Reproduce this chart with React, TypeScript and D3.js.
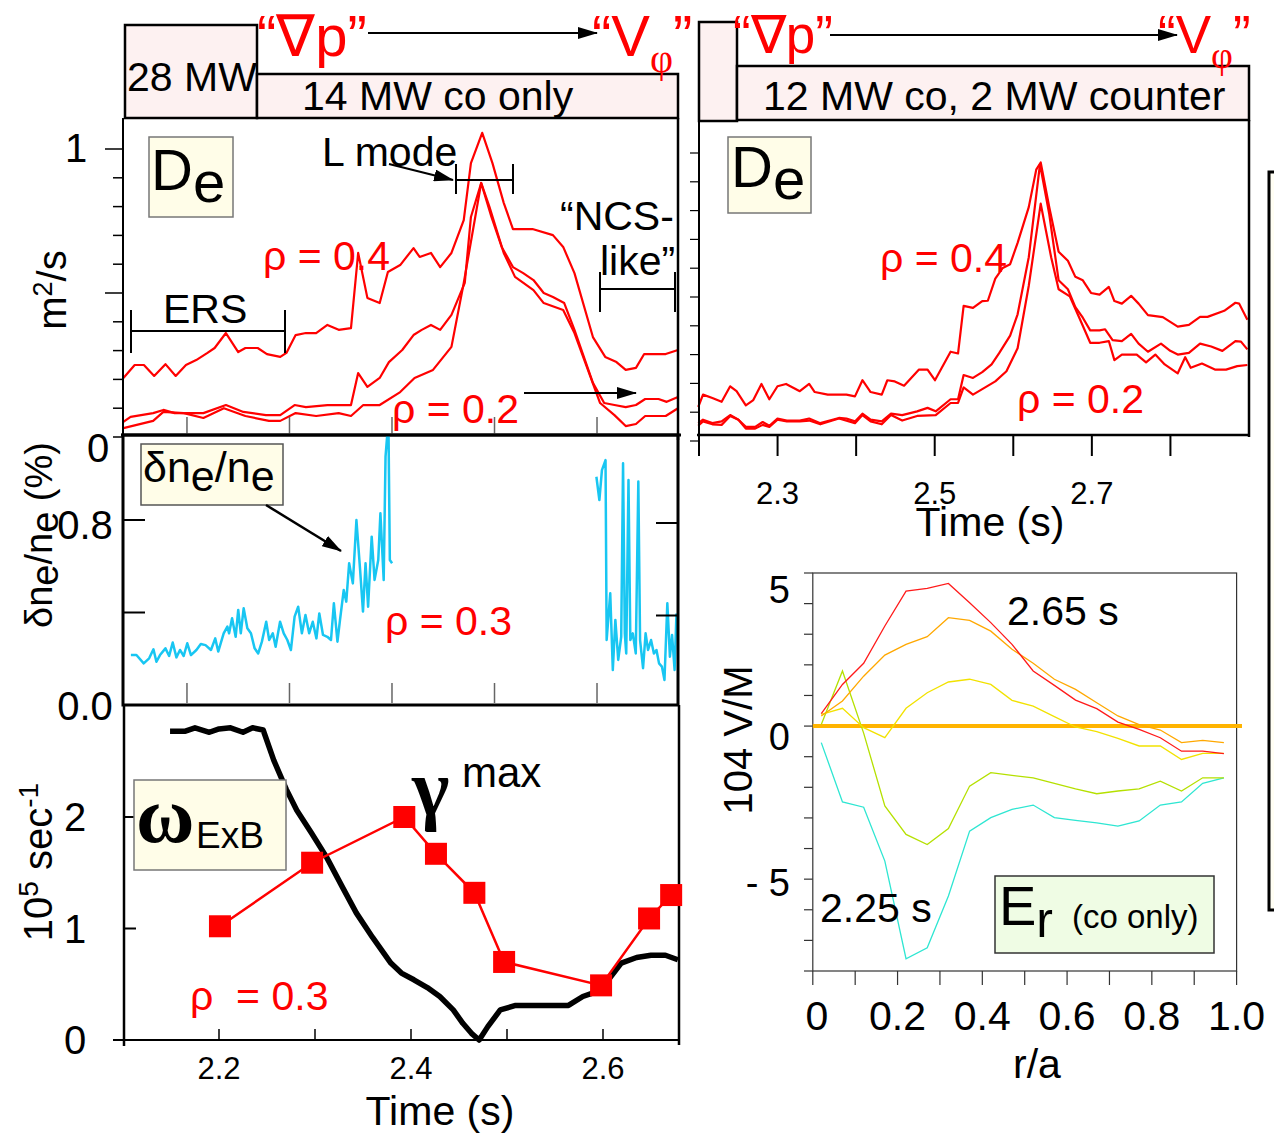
import React from 'react';
import * as d3 from 'd3';

const FONT = "'Liberation Sans', Arial, Helvetica, sans-serif";
const SERIF = "'Liberation Serif', 'DejaVu Serif', 'Times New Roman', serif";
const RED = '#ff0000';
const CYAN = '#18c6f2';

// ---------- De, co only (time s, m^2/s) ----------
const deCoRho04: [number, number][] = [
  [2.138,0.205],[2.149,0.25],[2.158,0.25],[2.168,0.212],[2.179,0.253],[2.189,0.212],[2.199,0.25],[2.209,0.267],
  [2.220,0.292],[2.227,0.309],[2.238,0.361],[2.250,0.295],[2.257,0.309],[2.269,0.309],[2.278,0.288],[2.291,0.278],
  [2.297,0.292],[2.306,0.354],[2.316,0.361],[2.326,0.361],[2.337,0.389],[2.348,0.372],[2.360,0.378],[2.367,0.639],
  [2.376,0.483],[2.388,0.465],[2.396,0.573],[2.408,0.597],[2.421,0.656],[2.427,0.625],[2.438,0.639],[2.447,0.590],
  [2.458,0.639],[2.470,0.753],[2.477,0.951],[2.488,1.056],[2.498,0.951],[2.509,0.813],[2.518,0.722],[2.537,0.722],
  [2.557,0.701],[2.567,0.66],[2.578,0.569],[2.596,0.347],[2.608,0.278],[2.619,0.26],[2.628,0.233],[2.638,0.24],
  [2.646,0.288],[2.667,0.288],[2.679,0.302]
];
const deCoRho03: [number, number][] = [
  [2.138,0.053],[2.145,0.07],[2.167,0.083],[2.177,0.094],[2.188,0.083],[2.216,0.083],[2.238,0.111],[2.255,0.087],
  [2.277,0.076],[2.291,0.076],[2.305,0.111],[2.316,0.104],[2.337,0.111],[2.360,0.111],[2.367,0.222],[2.376,0.174],
  [2.388,0.205],[2.397,0.26],[2.410,0.302],[2.421,0.354],[2.429,0.372],[2.438,0.389],[2.447,0.372],[2.458,0.424],
  [2.471,0.535],[2.477,0.764],[2.487,0.882],[2.497,0.764],[2.507,0.66],[2.518,0.59],[2.528,0.569],[2.538,0.545],
  [2.548,0.5],[2.557,0.486],[2.568,0.465],[2.578,0.372],[2.596,0.188],[2.607,0.118],[2.617,0.111],[2.628,0.104],
  [2.638,0.111],[2.647,0.132],[2.660,0.132],[2.668,0.122],[2.679,0.139]
];
const deCoRho02: [number, number][] = [
  [2.138,0.031],[2.167,0.056],[2.177,0.087],[2.197,0.083],[2.216,0.066],[2.236,0.1],[2.257,0.073],[2.280,0.056],
  [2.291,0.056],[2.306,0.083],[2.326,0.073],[2.348,0.083],[2.360,0.073],[2.372,0.111],[2.388,0.111],[2.408,0.156],
  [2.422,0.205],[2.440,0.233],[2.458,0.313],[2.470,0.535],[2.487,0.882],[2.495,0.8],[2.509,0.639],[2.520,0.556],
  [2.538,0.51],[2.548,0.465],[2.567,0.441],[2.578,0.361],[2.603,0.118],[2.617,0.076],[2.628,0.038],[2.638,0.045],
  [2.647,0.073],[2.667,0.073],[2.679,0.1]
];
const deCoTicks = [0, 0.1, 0.2, 0.3, 0.4, 0.5, 0.6, 0.7, 0.8, 0.9, 1.0];
const timeTicksLeft = [2.2, 2.3, 2.4, 2.5, 2.6];

// ---------- delta ne / ne (%) at rho = 0.3 ----------
const dnSeg1: [number, number][] = [
  [2.1453,0.216],[2.1507,0.216],[2.1578,0.180],[2.1631,0.202],[2.1673,0.241],[2.1702,0.187],[2.1737,0.216],[2.1790,0.245],
  [2.1826,0.212],[2.1861,0.270],[2.1897,0.206],[2.1932,0.238],[2.1968,0.212],[2.2003,0.267],[2.2039,0.216],[2.2092,0.238],
  [2.2135,0.264],[2.2181,0.259],[2.2234,0.238],[2.2276,0.288],[2.2305,0.231],[2.2358,0.310],[2.2394,0.339],[2.2411,0.310],
  [2.2440,0.375],[2.2475,0.295],[2.2500,0.411],[2.2525,0.310],[2.2553,0.418],[2.2589,0.332],[2.2624,0.310],[2.2660,0.245],
  [2.2695,0.223],[2.2731,0.274],[2.2773,0.360],[2.2802,0.281],[2.2837,0.310],[2.2865,0.252],[2.2908,0.360],[2.2944,0.310],
  [2.2979,0.281],[2.3014,0.238],[2.3050,0.382],[2.3085,0.425],[2.3121,0.310],[2.3156,0.389],[2.3192,0.310],[2.3227,0.360],
  [2.3263,0.288],[2.3291,0.396],[2.3327,0.303],[2.3369,0.295],[2.3405,0.281],[2.3433,0.440],[2.3468,0.274],[2.3493,0.368],
  [2.3529,0.497],[2.3554,0.447],[2.3582,0.613],[2.3618,0.526],[2.3653,0.800],[2.3689,0.584],[2.3717,0.404],[2.3742,0.613],
  [2.3767,0.425],[2.3802,0.728],[2.3830,0.541],[2.3866,0.627],[2.3887,0.829],[2.3919,0.541],[2.3937,1.074],[2.3965,1.232],
  [2.3979,0.627],[2.4001,0.613]
];
const dnSeg2: [number, number][] = [
  [2.5994,0.987],[2.6023,0.886],[2.6048,1.016],[2.6083,1.059],[2.6094,0.281],[2.6129,0.483],[2.6154,0.151],[2.6179,0.368],
  [2.6207,0.195],[2.6236,0.295],[2.6254,1.045],[2.6271,0.310],[2.6285,0.223],[2.6307,0.973],[2.6325,0.281],[2.6349,0.310],
  [2.6378,0.223],[2.6403,0.966],[2.6420,0.281],[2.6449,0.159],[2.6474,0.310],[2.6498,0.238],[2.6527,0.281],[2.6555,0.223],
  [2.6580,0.238],[2.6605,0.180],[2.6633,0.166],[2.6658,0.108],[2.6686,0.440],[2.6711,0.209],[2.6732,0.303],[2.6757,0.151],
  [2.6775,0.396]
];
const dnTicks = [0.4, 0.8];

// ---------- omega ExB and gamma max (10^5 s^-1) ----------
const omegaExB: [number, number][] = [
  [2.149,2.77],[2.165,2.77],[2.175,2.80],[2.19,2.76],[2.20,2.79],[2.212,2.80],[2.225,2.76],[2.235,2.80],[2.246,2.78],
  [2.257,2.51],[2.270,2.25],[2.281,2.06],[2.296,1.86],[2.312,1.64],[2.328,1.38],[2.343,1.14],[2.360,0.92],[2.379,0.69],
  [2.390,0.60],[2.403,0.54],[2.417,0.47],[2.430,0.39],[2.444,0.27],[2.454,0.15],[2.463,0.06],[2.471,0.0],[2.480,0.12],
  [2.493,0.27],[2.509,0.31],[2.564,0.31],[2.579,0.39],[2.592,0.43],[2.603,0.51],[2.619,0.69],[2.635,0.74],[2.650,0.76],
  [2.665,0.76],[2.678,0.72]
];
const gammaMax: [number, number][] = [
  [2.201,1.02],[2.297,1.59],[2.393,2.0],[2.426,1.67],[2.466,1.32],[2.497,0.70],[2.598,0.49],[2.648,1.09],[2.671,1.30]
];
const omegaTicks = [0, 1, 2];
const timeTicksBottom = [2.2, 2.3, 2.4, 2.5, 2.6];
const timeLabelsBottom = [2.2, 2.4, 2.6];

// ---------- De, 12 MW co + 2 MW counter ----------
const deCtrUpper: [number, number][] = [
  [2.1990,0.118],[2.2051,0.161],[2.2170,0.149],[2.2288,0.136],[2.2397,0.190],[2.2478,0.173],[2.2596,0.124],[2.2691,0.142],
  [2.2795,0.198],[2.2895,0.145],[2.2999,0.190],[2.3108,0.198],[2.3283,0.173],[2.3402,0.198],[2.3473,0.170],[2.3639,0.161],
  [2.3876,0.161],[2.3985,0.155],[2.4080,0.211],[2.4184,0.170],[2.4326,0.161],[2.4397,0.211],[2.4492,0.207],[2.4610,0.192],
  [2.4800,0.248],[2.4909,0.248],[2.5003,0.211],[2.5202,0.310],[2.5297,0.304],[2.5368,0.469],[2.5487,0.462],[2.5605,0.486],
  [2.5676,0.487],[2.5771,0.564],[2.5866,0.601],[2.5960,0.614],[2.6055,0.688],[2.6197,0.812],[2.6292,0.942],[2.6349,0.967],
  [2.6458,0.812],[2.6577,0.657],[2.6695,0.626],[2.6790,0.570],[2.6885,0.558],[2.6989,0.514],[2.7098,0.508],[2.7216,0.535],
  [2.7287,0.486],[2.7382,0.477],[2.7500,0.504],[2.7595,0.477],[2.7714,0.437],[2.7903,0.430],[2.8093,0.397],[2.8235,0.403],
  [2.8377,0.431],[2.8472,0.431],[2.8685,0.452],[2.8827,0.480],[2.8875,0.477],[2.8979,0.421]
];
const deCtrMiddle: [number, number][] = [
  [2.1990,0.062],[2.2051,0.074],[2.2170,0.062],[2.2288,0.068],[2.2397,0.090],[2.2502,0.074],[2.2596,0.049],[2.2715,0.049],
  [2.2810,0.066],[2.2895,0.053],[2.2999,0.078],[2.3118,0.071],[2.3283,0.071],[2.3402,0.078],[2.3544,0.062],[2.3781,0.080],
  [2.3876,0.078],[2.3985,0.068],[2.4080,0.095],[2.4184,0.074],[2.4326,0.068],[2.4444,0.095],[2.4586,0.090],[2.4776,0.103],
  [2.4909,0.115],[2.5013,0.103],[2.5202,0.145],[2.5297,0.145],[2.5368,0.229],[2.5487,0.219],[2.5605,0.239],[2.5724,0.266],
  [2.5818,0.304],[2.5960,0.366],[2.6055,0.440],[2.6197,0.638],[2.6340,0.961],[2.6458,0.787],[2.6577,0.558],[2.6695,0.527],
  [2.6790,0.465],[2.6885,0.428],[2.6979,0.384],[2.7098,0.384],[2.7169,0.388],[2.7264,0.350],[2.7382,0.347],[2.7500,0.372],
  [2.7595,0.338],[2.7714,0.310],[2.7880,0.338],[2.7998,0.313],[2.8093,0.300],[2.8235,0.306],[2.8377,0.338],[2.8519,0.328],
  [2.8661,0.313],[2.8827,0.347],[2.8898,0.345],[2.8979,0.318]
];
const deCtrLower: [number, number][] = [
  [2.1990,0.053],[2.2051,0.068],[2.2170,0.058],[2.2288,0.056],[2.2397,0.087],[2.2502,0.074],[2.2596,0.043],[2.2715,0.043],
  [2.2810,0.056],[2.2895,0.049],[2.2999,0.074],[2.3118,0.068],[2.3283,0.068],[2.3402,0.071],[2.3544,0.058],[2.3781,0.078],
  [2.3985,0.062],[2.4080,0.090],[2.4184,0.068],[2.4326,0.058],[2.4444,0.090],[2.4586,0.071],[2.4776,0.087],[2.5013,0.090],
  [2.5202,0.132],[2.5297,0.132],[2.5368,0.186],[2.5487,0.161],[2.5605,0.180],[2.5771,0.207],[2.5913,0.242],[2.6055,0.322],
  [2.6197,0.539],[2.6349,0.824],[2.6482,0.638],[2.6577,0.527],[2.6719,0.502],[2.6861,0.415],[2.6979,0.341],[2.7098,0.341],
  [2.7216,0.347],[2.7287,0.281],[2.7382,0.300],[2.7571,0.300],[2.7690,0.273],[2.7808,0.300],[2.7927,0.266],[2.8093,0.235],
  [2.8188,0.291],[2.8258,0.254],[2.8401,0.269],[2.8566,0.248],[2.8708,0.248],[2.8850,0.260],[2.8979,0.264]
];
const timeTicksRight = [2.2, 2.3, 2.4, 2.5, 2.6, 2.7, 2.8];
const timeLabelsRight = [2.3, 2.5, 2.7];

// ---------- Er profiles (10^4 V/m) vs r/a ----------
const rOverA = [0.02,0.07,0.12,0.17,0.22,0.27,0.32,0.37,0.42,0.47,0.52,0.57,0.62,0.67,0.72,0.77,0.82,0.87,0.92,0.97];
const er265 = [0.41,1.36,2.05,3.27,4.41,4.50,4.66,4.03,3.38,2.67,1.80,1.33,0.85,0.57,0.13,-0.11,-0.38,-0.82,-0.82,-0.90];
const erOrange = [0.33,0.82,1.63,2.32,2.67,2.92,3.54,3.45,3.10,2.51,2.05,1.53,1.20,0.76,0.33,0.05,-0.13,-0.54,-0.47,-0.54];
const erYellow = [0.38,0.58,-0.05,-0.38,0.58,1.09,1.44,1.53,1.36,0.84,0.65,0.31,-0.03,-0.18,-0.40,-0.65,-0.65,-1.09,-0.89,-0.89];
const erGreen = [0.05,1.80,-0.23,-2.61,-3.54,-3.87,-3.35,-1.96,-1.52,-1.61,-1.69,-1.87,-2.05,-2.21,-2.12,-2.05,-1.80,-2.12,-1.69,-1.69];
const er225 = [-0.54,-2.48,-2.65,-4.41,-7.60,-7.24,-5.55,-3.43,-2.99,-2.72,-2.58,-2.99,-3.08,-3.16,-3.27,-3.10,-2.58,-2.48,-1.87,-1.69];
const erSeries = [
  { vals: er225, color: '#2ee6d2' },
  { vals: erGreen, color: '#b5e000' },
  { vals: erYellow, color: '#f2e200' },
  { vals: erOrange, color: '#ffa800' },
  { vals: er265, color: '#ff1a1a' },
];
const erYTicks = d3.range(-8, 6, 1);
const erYLabels = [{ v: 5, t: '5', dy: 16 }, { v: 0, t: '0', dy: 10 }, { v: -5, t: '- 5', dy: 3 }];
const erXTicks = d3.range(0, 1.0001, 0.1);
const erXLabels = [0, 0.2, 0.4, 0.6, 0.8, 1.0];

export default function App() {
  // scales
  const xL = d3.scaleLinear().domain([2.1376, 2.679]).range([123, 678]);
  const yDeL = d3.scaleLinear().domain([0, 1]).range([437, 149]);
  const yDn = d3.scaleLinear().domain([0, 0.8]).range([705, 520]);
  const xB = d3.scaleLinear().domain([2.2, 2.6]).range([219, 603]);
  const yOm = d3.scaleLinear().domain([0, 2]).range([1040, 817]);
  const xR = d3.scaleLinear().domain([2.2, 2.9]).range([699, 1249]);
  const yDeR = d3.scaleLinear().domain([0, 1]).range([441, 153]);
  const xEr = d3.scaleLinear().domain([0, 1]).range([812.8, 1236.6]);
  const yEr = d3.scaleLinear().domain([-8, 5]).range([971, 573]);

  const mk = (xs: any, ys: any) => d3.line<[number, number]>().x(d => xs(d[0])).y(d => ys(d[1]));
  const lDeL = mk(xL, yDeL);
  const lDn = mk(xL, yDn);
  const lOm = mk(xB, yOm);
  const lDeR = mk(xR, yDeR);
  const lEr = d3.line<number>().x((_, i) => xEr(rOverA[i])).y(d => yEr(d));

  const txt = { fontFamily: FONT };

  return (
    <svg width={1274} height={1133} style={{ position: 'absolute', left: 0, top: 0, background: '#fff' }}>
      <defs>
        <marker id="ah" viewBox="0 0 20 12" refX="19" refY="6" markerWidth="20" markerHeight="12"
          markerUnits="userSpaceOnUse" orient="auto">
          <path d="M0,0 L20,6 L0,12 z" fill="#000" />
        </marker>
        <clipPath id="clipDn"><rect x={123} y={435} width={555} height={270} /></clipPath>
        <clipPath id="clipDeL"><rect x={123} y={118} width={556} height={318} /></clipPath>
      </defs>
      <rect x={0} y={0} width={1274} height={1133} fill="#fff" />

      {/* ===== beam boxes and headers ===== */}
      <rect x={125} y={25} width={132} height={93} fill="#fdf1f1" stroke="#000" strokeWidth={2.5} />
      <rect x={257} y={74} width={421} height={44} fill="#fdf1f1" stroke="#000" strokeWidth={2.5} />
      <text x={127} y={91} fontSize={41} {...txt}>28 MW</text>
      <text x={302} y={110} fontSize={41} {...txt}>14 MW co only</text>
      <text x={257} y={56} fontSize={58} fill={RED} {...txt}>“∇p”</text>
      <line x1={368} y1={33} x2={597} y2={33} stroke="#000" strokeWidth={2} markerEnd="url(#ah)" />
      <text x={592} y={56} fontSize={58} fill={RED} {...txt}>“V<tspan fontSize={40} fontFamily={SERIF} dy={16}>φ</tspan><tspan dy={-16}>”</tspan></text>

      <rect x={699} y={22} width={38} height={99} fill="#fdf1f1" stroke="#000" strokeWidth={2.5} />
      <rect x={737} y={66} width={512} height={54} fill="#fdf1f1" stroke="#000" strokeWidth={2.5} />
      <text x={763} y={110} fontSize={41} {...txt}>12 MW co, 2 MW counter</text>
      <text x={733} y={53} fontSize={53} fill={RED} {...txt}>“∇p”</text>
      <line x1={830} y1={35} x2={1177} y2={35} stroke="#000" strokeWidth={2} markerEnd="url(#ah)" />
      <text x={1158} y={53} fontSize={53} fill={RED} {...txt}>“V<tspan fontSize={38} fontFamily={SERIF} dy={15}>φ</tspan><tspan dy={-15}>”</tspan></text>

      {/* ===== Panel 1: De co only ===== */}
      <g clipPath="url(#clipDeL)">
        {[deCoRho04, deCoRho03, deCoRho02].map((d, i) => (
          <path key={i} d={lDeL(d) || ''} fill="none" stroke={RED} strokeWidth={2.2} strokeLinejoin="round" />
        ))}
      </g>
      <line x1={123} y1={118} x2={123} y2={437} stroke="#000" strokeWidth={2} />
      <line x1={678} y1={118} x2={678} y2={440} stroke="#000" strokeWidth={2.5} />
      <line x1={121} y1={435} x2={681} y2={435} stroke="#000" strokeWidth={3} />
      {deCoTicks.map(v => (
        <line key={v} x1={v === 0.5 || v === 1 ? 105 : 113} x2={123} y1={yDeL(v)} y2={yDeL(v)} stroke="#000" strokeWidth={1.5} />
      ))}
      {timeTicksLeft.map(t => (
        <line key={t} x1={xL(t)} x2={xL(t)} y1={417} y2={434} stroke="#666" strokeWidth={1.5} />
      ))}
      <text x={76} y={162} fontSize={40} textAnchor="middle" {...txt}>1</text>
      <text x={98} y={462} fontSize={40} textAnchor="middle" {...txt}>0</text>
      <text transform="translate(66,290) rotate(-90)" fontSize={40} textAnchor="middle" {...txt}>m<tspan fontSize={27} dy={-14}>2</tspan><tspan dy={14}>/s</tspan></text>

      <rect x={149} y={137} width={84} height={80} fill="#fffde8" stroke="#777" strokeWidth={1.5} />
      <text x={151} y={190} fontSize={58} {...txt}>D<tspan dy={12}>e</tspan></text>
      <text x={322} y={166} fontSize={41} {...txt}>L mode</text>
      <line x1={389} y1={164} x2={453} y2={180} stroke="#000" strokeWidth={2} markerEnd="url(#ah)" />
      <line x1={456} y1={180} x2={513} y2={180} stroke="#000" strokeWidth={2} />
      <line x1={456} y1={164} x2={456} y2={194} stroke="#000" strokeWidth={2} />
      <line x1={513} y1={164} x2={513} y2={194} stroke="#000" strokeWidth={2} />
      <text x={263} y={270} fontSize={41} fill={RED} {...txt}>ρ = 0.4</text>
      <text x={163} y={323} fontSize={41} {...txt}>ERS</text>
      <line x1={131} y1={331} x2={285} y2={331} stroke="#000" strokeWidth={2} />
      <line x1={131} y1={310} x2={131} y2={353} stroke="#000" strokeWidth={2} />
      <line x1={285} y1={310} x2={285} y2={353} stroke="#000" strokeWidth={2} />
      <text x={560} y={230} fontSize={41} {...txt}>“NCS-</text>
      <text x={600} y={275} fontSize={41} {...txt}>like”</text>
      <line x1={600} y1={289} x2={675} y2={289} stroke="#000" strokeWidth={2} />
      <line x1={600} y1={272} x2={600} y2={312} stroke="#000" strokeWidth={2} />
      <line x1={675} y1={272} x2={675} y2={312} stroke="#000" strokeWidth={2} />
      <text x={392} y={423} fontSize={41} fill={RED} {...txt}>ρ = 0.2</text>
      <line x1={524} y1={393} x2={636} y2={393} stroke="#000" strokeWidth={2} markerEnd="url(#ah)" />

      {/* ===== Panel 2: delta ne/ne ===== */}
      <g clipPath="url(#clipDn)">
        <path d={lDn(dnSeg1) || ''} fill="none" stroke={CYAN} strokeWidth={2.5} strokeLinejoin="round" />
        <path d={lDn(dnSeg2) || ''} fill="none" stroke={CYAN} strokeWidth={2.5} strokeLinejoin="round" />
      </g>
      <rect x={123} y={435} width={555} height={270} fill="none" stroke="#000" strokeWidth={3} />
      {dnTicks.map(v => (
        <g key={v}>
          <line x1={123} x2={145} y1={yDn(v)} y2={yDn(v)} stroke="#000" strokeWidth={2} />
          <line x1={656} x2={678} y1={yDn(v) + 3} y2={yDn(v) + 3} stroke="#000" strokeWidth={2} />
        </g>
      ))}
      {timeTicksLeft.map(t => (
        <line key={t} x1={xL(t)} x2={xL(t)} y1={683} y2={703} stroke="#666" strokeWidth={1.5} />
      ))}
      <text x={85} y={539} fontSize={40} textAnchor="middle" {...txt}>0.8</text>
      <text x={85} y={720} fontSize={40} textAnchor="middle" {...txt}>0.0</text>
      <text transform="translate(52,535) rotate(-90)" fontSize={38} textAnchor="middle" {...txt}>δn<tspan dy={6}>e</tspan><tspan dy={-6}>/n</tspan><tspan dy={6}>e</tspan><tspan dy={-6}> (%)</tspan></text>
      <rect x={141} y={444} width={142} height={61} fill="#fffde8" stroke="#555" strokeWidth={1.5} />
      <text x={143} y={482} fontSize={43} {...txt}>δn<tspan dy={9}>e</tspan><tspan dy={-9}>/n</tspan><tspan dy={9}>e</tspan></text>
      <line x1={266} y1={505} x2={341} y2={551} stroke="#000" strokeWidth={2.5} markerEnd="url(#ah)" />
      <text x={385} y={635} fontSize={41} fill={RED} {...txt}>ρ = 0.3</text>

      {/* ===== Panel 3: omega ExB / gamma max ===== */}
      <line x1={124} y1={705} x2={124} y2={1046} stroke="#000" strokeWidth={2.5} />
      <line x1={113} y1={1040} x2={679} y2={1040} stroke="#000" strokeWidth={2} />
      <line x1={679} y1={705} x2={679} y2={1045} stroke="#000" strokeWidth={2.5} />
      {omegaTicks.filter(v => v > 0).map(v => (
        <line key={v} x1={124} x2={136} y1={yOm(v)} y2={yOm(v)} stroke="#000" strokeWidth={2} />
      ))}
      {timeTicksBottom.map(t => (
        <line key={t} x1={xB(t)} x2={xB(t)} y1={1029} y2={1040} stroke="#000" strokeWidth={1.5} />
      ))}
      {omegaTicks.map(v => (
        <text key={v} x={75} y={yOm(v) + 14} fontSize={40} textAnchor="middle" {...txt}>{v}</text>
      ))}
      {timeLabelsBottom.map(t => (
        <text key={t} x={xB(t)} y={1079} fontSize={31} textAnchor="middle" {...txt}>{t.toFixed(1)}</text>
      ))}
      <text x={440} y={1125} fontSize={41} textAnchor="middle" {...txt}>Time (s)</text>
      <text transform="translate(52,862) rotate(-90)" fontSize={40} textAnchor="middle" {...txt}>10<tspan fontSize={28} dy={-14}>5</tspan><tspan dy={14}> sec</tspan><tspan fontSize={28} dy={-14}>-1</tspan></text>

      <path d={lOm(omegaExB) || ''} fill="none" stroke="#000" strokeWidth={5.5} strokeLinejoin="round" />
      <path d={lOm(gammaMax) || ''} fill="none" stroke={RED} strokeWidth={2.5} />
      {gammaMax.map((d, i) => (
        <rect key={i} x={xB(d[0]) - 11} y={yOm(d[1]) - 11} width={22} height={22} fill={RED} />
      ))}
      <rect x={134} y={780} width={152} height={90} fill="#fffde8" stroke="#777" strokeWidth={1.5} />
      <text x={136} y={842} fontSize={80} fontWeight="bold" fontFamily={SERIF}>ω</text>
      <text x={196} y={848} fontSize={37} {...txt}>ExB</text>
      <text x={412} y={815} fontSize={80} fontWeight="bold" fontFamily={SERIF}>γ</text>
      <text x={462} y={787} fontSize={42} {...txt}>max</text>
      <text x={190} y={1010} fontSize={41} fill={RED} {...txt} style={{ whiteSpace: 'pre' }}>ρ  = 0.3</text>

      {/* ===== Panel 4: De co + counter ===== */}
      {[deCtrUpper, deCtrMiddle, deCtrLower].map((d, i) => (
        <path key={i} d={lDeR(d) || ''} fill="none" stroke={RED} strokeWidth={2.2} strokeLinejoin="round" />
      ))}
      <line x1={699} y1={121} x2={699} y2={456} stroke="#000" strokeWidth={2} />
      <line x1={697} y1={435} x2={1250} y2={435} stroke="#000" strokeWidth={2.5} />
      <line x1={1249} y1={120} x2={1249} y2={437} stroke="#000" strokeWidth={2.5} />
      {deCoTicks.map(v => (
        <line key={v} x1={690} x2={699} y1={yDeR(v)} y2={yDeR(v)} stroke="#000" strokeWidth={1.2} />
      ))}
      {timeTicksRight.map(t => (
        <line key={t} x1={xR(t)} x2={xR(t)} y1={435} y2={456} stroke="#000" strokeWidth={2} />
      ))}
      {timeLabelsRight.map(t => (
        <text key={t} x={xR(t)} y={504} fontSize={31} textAnchor="middle" {...txt}>{t.toFixed(1)}</text>
      ))}
      <text x={990} y={536} fontSize={41} textAnchor="middle" {...txt}>Time (s)</text>
      <rect x={728} y={137} width={83} height={76} fill="#fffde8" stroke="#777" strokeWidth={1.5} />
      <text x={731} y={187} fontSize={58} {...txt}>D<tspan dy={12}>e</tspan></text>
      <text x={880} y={272} fontSize={41} fill={RED} {...txt}>ρ = 0.4</text>
      <text x={1017} y={413} fontSize={41} fill={RED} {...txt}>ρ = 0.2</text>

      {/* ===== Panel 5: Er profiles ===== */}
      <rect x={812.8} y={573} width={423.8} height={398} fill="none" stroke="#333" strokeWidth={1.2} />
      {erYTicks.map(v => (
        <line key={v} x1={804} x2={812.8} y1={yEr(v)} y2={yEr(v)} stroke="#333" strokeWidth={1.2} />
      ))}
      {erXTicks.map((v, i) => (
        <line key={i} x1={xEr(v)} x2={xEr(v)} y1={971} y2={985} stroke="#333" strokeWidth={1.2} />
      ))}
      {erYLabels.map(l => (
        <text key={l.v} x={790} y={yEr(l.v) + l.dy + 14} fontSize={38} textAnchor="end" {...txt} style={{ whiteSpace: 'pre' }}>{l.t}</text>
      ))}
      {erXLabels.map(v => (
        <text key={v} x={xEr(v) + (v === 0 ? 4 : 0)} y={1030} fontSize={41} textAnchor="middle" {...txt}>{v === 0 ? '0' : v.toFixed(1)}</text>
      ))}
      <text x={1037} y={1078} fontSize={41} textAnchor="middle" {...txt}>r/a</text>
      <text transform="translate(752,740) rotate(-90)" fontSize={40} textAnchor="middle" {...txt}>104 V/M</text>
      <line x1={812.8} y1={yEr(0)} x2={1242} y2={yEr(0)} stroke="#ffb400" strokeWidth={4} />
      {erSeries.map((s, i) => (
        <path key={i} d={lEr(s.vals) || ''} fill="none" stroke={s.color} strokeWidth={1.3} />
      ))}
      <text x={1007} y={625} fontSize={41} {...txt}>2.65 s</text>
      <text x={820} y={922} fontSize={41} {...txt}>2.25 s</text>
      <rect x={995} y={876} width={219} height={77} fill="#effce4" stroke="#333" strokeWidth={1.5} />
      <text x={999} y={925} fontSize={56} {...txt}>E<tspan fontSize={50} dy={12}>r</tspan></text>
      <text x={1072} y={928} fontSize={33} {...txt}>(co only)</text>

      {/* right-edge partial panel */}
      <rect x={1269} y={172} width={20} height={738} fill="#fffef4" stroke="#000" strokeWidth={3} />
    </svg>
  );
}
